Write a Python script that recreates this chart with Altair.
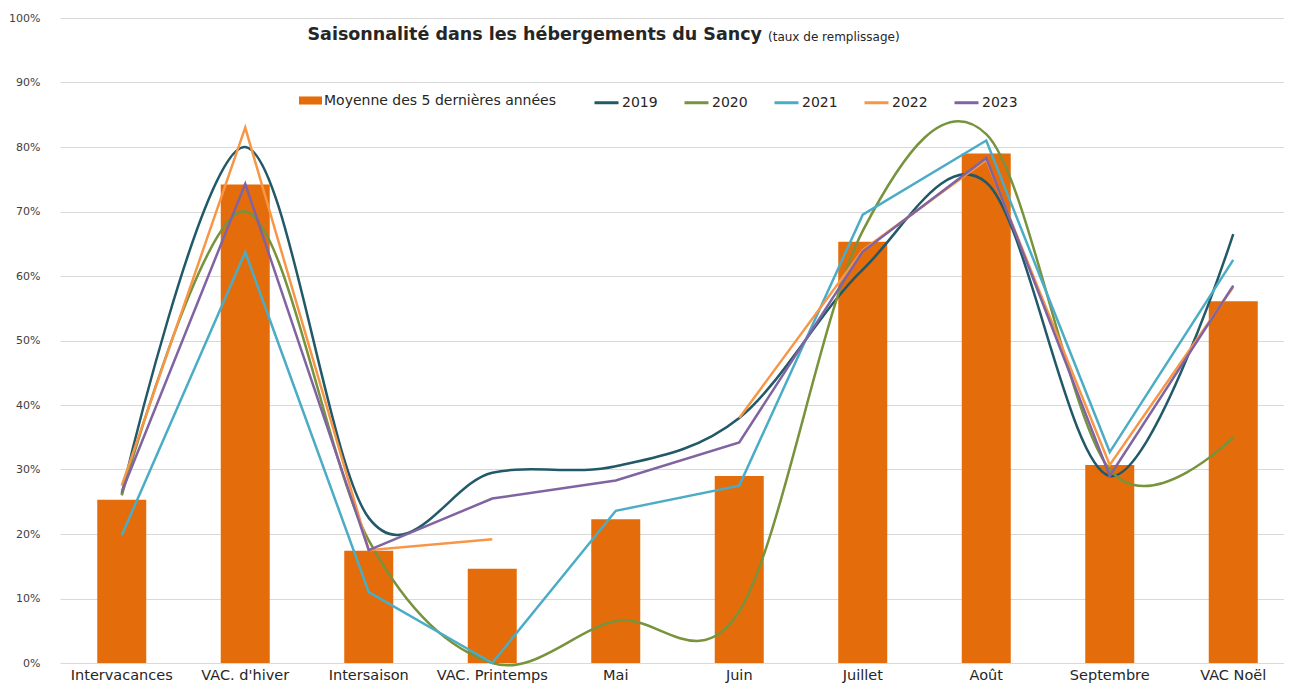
import altair as alt
import pandas as pd
import numpy as np

categories = ["Intervacances", "VAC. d'hiver", "Intersaison", "VAC. Printemps", "Mai",
              "Juin", "Juillet", "Août", "Septembre", "VAC Noël"]
moyenne = [25.3, 74.2, 17.4, 14.6, 22.3, 29.0, 65.3, 79.0, 30.7, 56.1]
y2019 = [26.2, 80.0, 22.5, 29.5, 30.5, 38.0, 61.0, 74.5, 29.0, 66.5]
y2020 = [26.0, 70.0, 19.0, 0.0, 6.5, 8.0, 67.0, 82.0, 30.0, 35.0]
y2021 = [19.8, 63.7, 11.0, 0.0, 23.6, 27.5, 69.5, 81.0, 32.7, 62.5]
y2022 = [27.5, 83.0, 17.5, 19.2, None, 38.0, 64.0, 78.0, 30.7, 58.3]
y2023 = [26.5, 74.3, 17.5, 25.5, 28.3, 34.2, 63.8, 78.3, 29.0, 58.5]

years = ["2019", "2020", "2021", "2022", "2023"]
year_colors = ["#215968", "#77933C", "#4BACC6", "#F79646", "#8064A2"]
bar_label = "Moyenne des 5 dernières années"
bar_color = "#E46C0A"
title_main = "Saisonnalité dans les hébergements du Sancy"
title_small = "(taux de remplissage)"

FONT = "DejaVu Sans"

bars_df = pd.DataFrame({
    "cat": categories,
    "val": [v / 100 for v in moyenne],
    "serie": [bar_label] * len(categories),
})

rows = []
for yr, vals in zip(years, [y2019, y2020, y2021, y2022, y2023]):
    for c, v in zip(categories, vals):
        rows.append({"cat": c, "year": yr, "val": (np.nan if v is None else v / 100)})
lines_df = pd.DataFrame(rows)

x_enc = alt.X(
    "cat:N", sort=categories, title=None,
    scale=alt.Scale(range=[0, 1235], paddingInner=0, paddingOuter=0),
    axis=alt.Axis(labelAngle=0, ticks=False, domain=False, grid=False,
                  labelFont=FONT, labelFontSize=14.5, labelColor="#262626",
                  labelPadding=5),
)
y_enc = alt.Y(
    "val:Q", title=None,
    scale=alt.Scale(domain=[0, 1]),
    axis=alt.Axis(format="%", values=[i / 10 for i in range(11)], domain=False,
                  ticks=False, labelPadding=20, labelFont=FONT, labelFontSize=11,
                  labelColor="#404040", gridColor="#D9D9D9", gridWidth=1),
)

color_scale = alt.Scale(domain=years, range=year_colors)
line_legend = alt.Legend(
    title=None, orient="none", legendX=533, legendY=71, direction="horizontal",
    symbolType="stroke", symbolSize=576, symbolStrokeWidth=3,
    labelFont=FONT, labelFontSize=14, labelFontWeight="normal",
    labelColor="#262626", labelOffset=2, labelLimit=0,
    columnPadding=20, padding=0,
)

bars = alt.Chart(bars_df).mark_bar(size=49).encode(
    x=x_enc,
    y=y_enc,
    fill=alt.Fill("serie:N", scale=alt.Scale(domain=[bar_label], range=[bar_color]),
                  legend=alt.Legend(title=None, orient="none", legendX=239, legendY=71,
                                    symbolType="M-1,-0.35L1,-0.35L1,0.35L-1,0.35Z",
                                    symbolSize=529, symbolStrokeWidth=0,
                                    labelFont=FONT, labelFontSize=14,
                                    labelFontWeight="normal", labelLimit=0,
                                    labelColor="#262626", labelOffset=2, padding=0)),
)

smooth = alt.Chart(lines_df).transform_filter(
    alt.FieldOneOfPredicate(field="year", oneOf=["2019", "2020"])
).mark_line(interpolate="cardinal", strokeWidth=2.5).encode(
    x=x_enc, y=y_enc,
    color=alt.Color("year:N", scale=color_scale, legend=line_legend),
)

straight = alt.Chart(lines_df).transform_filter(
    alt.FieldOneOfPredicate(field="year", oneOf=["2021", "2022", "2023"])
).mark_line(strokeWidth=2.5, invalid="break-paths-show-domains").encode(
    x=x_enc, y=y_enc,
    color=alt.Color("year:N", scale=color_scale, legend=line_legend),
)

t1 = alt.Chart(pd.DataFrame({"t": [title_main]})).mark_text(
    align="right", baseline="middle", font=FONT, fontSize=17.5, fontWeight="bold",
    color="#262626",
).encode(x=alt.value(702), y=alt.value(17), text="t:N")

t2 = alt.Chart(pd.DataFrame({"t": [title_small]})).mark_text(
    align="left", baseline="middle", font=FONT, fontSize=12, color="#262626",
).encode(x=alt.value(708), y=alt.value(19), text="t:N")

chart = alt.layer(bars, smooth, straight, t1, t2).properties(
    width=1224, height=645,
    autosize=alt.AutoSizeParams(type="none"),
    padding={"left": 52, "top": 10, "right": 0, "bottom": 20},
).configure_view(stroke=None)

chart.save("out.html", embed_options={"renderer": "svg", "actions": False})
